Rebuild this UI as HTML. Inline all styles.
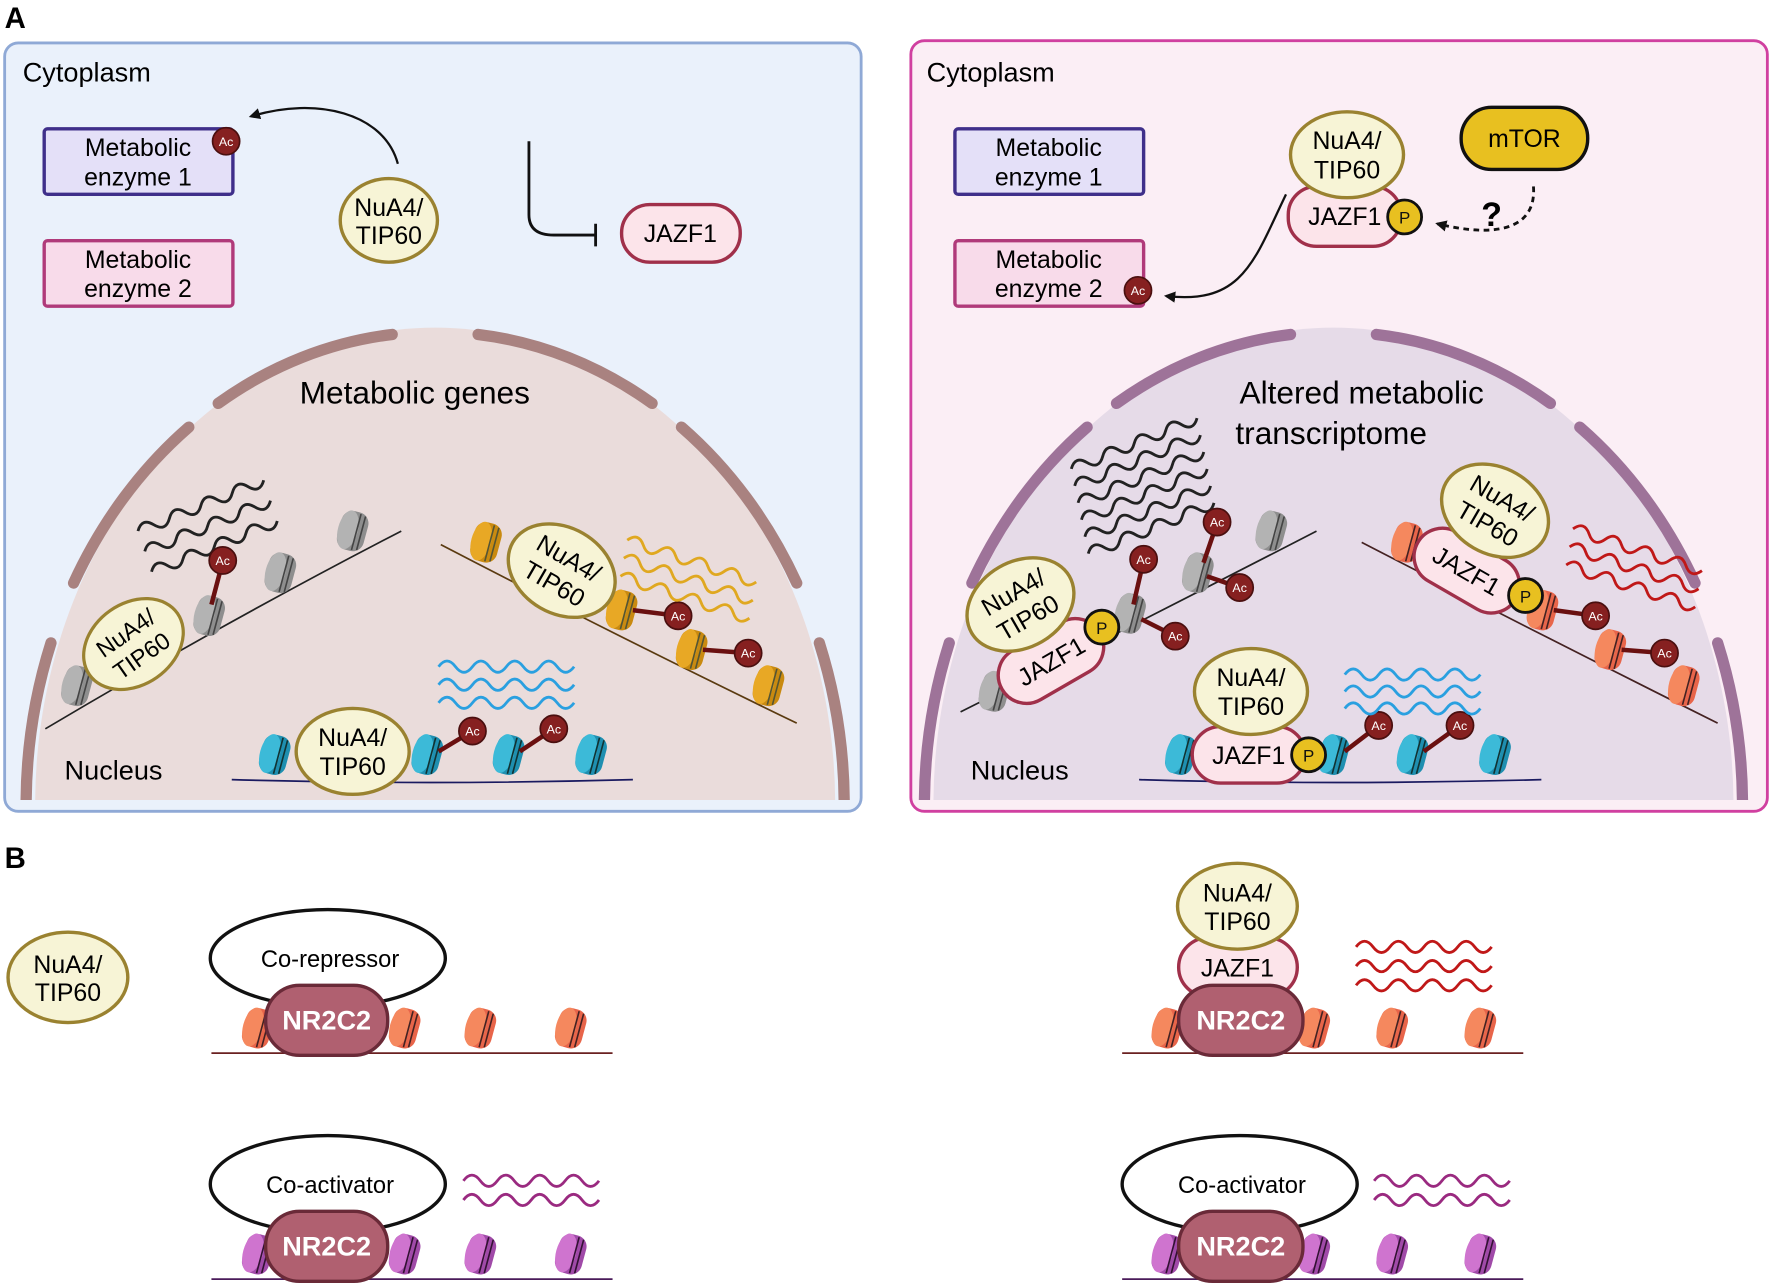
<!DOCTYPE html>
<html><head><meta charset="utf-8"><style>html,body{margin:0;padding:0;background:#fff}svg{display:block}text{font-family:"Liberation Sans",sans-serif}</style></head><body>
<svg width="1772" height="1287" viewBox="0 0 1568 1139" xmlns="http://www.w3.org/2000/svg">
<defs>
<clipPath id="cl"><rect x="5" y="39" width="756" height="669"/></clipPath>
<clipPath id="cr"><rect x="807" y="37" width="756" height="671"/></clipPath>
<g id="ngray"><g transform="rotate(15) scale(1.1)"><rect x="-11" y="-16" width="22" height="32" rx="9" fill="#8e8e8e"/><ellipse cx="-4" cy="0" rx="8" ry="16" fill="#b3b3b3"/><path d="M3 -15 V15 M7 -14 V14" stroke="#444" stroke-width="1.3"/></g></g>
<g id="nor"><g transform="rotate(15) scale(1.1)"><rect x="-11" y="-16" width="22" height="32" rx="9" fill="#c98a10"/><ellipse cx="-4" cy="0" rx="8" ry="16" fill="#e8a825"/><path d="M3 -15 V15 M7 -14 V14" stroke="#553" stroke-width="1.3"/></g></g>
<g id="nbl"><g transform="rotate(15) scale(1.1)"><rect x="-11" y="-16" width="22" height="32" rx="9" fill="#1f8fb0"/><ellipse cx="-4" cy="0" rx="8" ry="16" fill="#3cbad8"/><path d="M3 -15 V15 M7 -14 V14" stroke="#133" stroke-width="1.3"/></g></g>
<g id="nsa"><g transform="rotate(15) scale(1.1)"><rect x="-11" y="-16" width="22" height="32" rx="9" fill="#e8654a"/><ellipse cx="-4" cy="0" rx="8" ry="16" fill="#f5885e"/><path d="M3 -15 V15 M7 -14 V14" stroke="#422" stroke-width="1.3"/></g></g>
<g id="npu"><g transform="rotate(15) scale(1.1)"><rect x="-11" y="-16" width="22" height="32" rx="9" fill="#a04aa8"/><ellipse cx="-4" cy="0" rx="8" ry="16" fill="#cf74cf"/><path d="M3 -15 V15 M7 -14 V14" stroke="#313" stroke-width="1.3"/></g></g>
<g id="ac"><circle r="12" fill="#862020" stroke="#4a0f0f" stroke-width="1.5"/><text x="0" y="4" font-size="11" fill="#fff" text-anchor="middle">Ac</text></g>
<g id="pp"><circle r="15" fill="#e8c020" stroke="#111" stroke-width="2.5"/><text x="0" y="6" font-size="15" fill="#111" text-anchor="middle">P</text></g>
<g id="nua"><ellipse rx="50" ry="38" fill="#f7f4d6" stroke="#9a8230" stroke-width="3"/><text y="-5" font-size="22" text-anchor="middle">NuA4/</text><text y="21" font-size="22" text-anchor="middle">TIP60</text></g>
<path id="wv" d="M0 0 q7.5 -10 15 0 t15 0 t15 0 t15 0 t15 0 t15 0 t15 0 t15 0" fill="none" stroke-width="2.5"/>
<path id="mem" d="M362 0 A362 418 0 0 0 340 -143 M320 -196 A362 418 0 0 0 218 -334 M192 -355 A362 418 0 0 0 38 -416 M-38 -416 A362 418 0 0 0 -192 -355 M-218 -334 A362 418 0 0 0 -320 -196 M-340 -143 A362 418 0 0 0 -362 0" fill="none" stroke-width="10" stroke-linecap="round"/>
<marker id="ah" markerWidth="10" markerHeight="10" refX="8" refY="5" orient="auto" markerUnits="userSpaceOnUse" viewBox="0 0 10 10"><path d="M0 0 L10 5 L0 10 z" fill="#111"/></marker>
</defs>

<text x="4" y="25" font-size="26" font-weight="bold">A</text>
<text x="4" y="768" font-size="26" font-weight="bold">B</text>

<!-- LEFT PANEL -->
<rect x="4" y="38" width="758" height="680" rx="12" fill="#eaf1fb" stroke="#8fa9d6" stroke-width="2.5"/>
<g clip-path="url(#cl)">
<ellipse cx="385" cy="712" rx="354" ry="422" fill="#eadcdb"/>
<use href="#mem" x="385" y="712" stroke="#a98280"/>
</g>
<text x="20" y="72" font-size="24">Cytoplasm</text>
<rect x="39" y="114" width="167" height="58" rx="3" fill="#e4e0f8" stroke="#3f2f8a" stroke-width="3"/>
<text x="122" y="138" font-size="22" text-anchor="middle">Metabolic</text><text x="122" y="164" font-size="22" text-anchor="middle">enzyme 1</text>
<use href="#ac" x="200" y="125"/>
<path d="M352 145 C340 100 280 85 222 103" fill="none" stroke="#111" stroke-width="2" marker-end="url(#ah)"/>
<rect x="39" y="213" width="167" height="58" rx="3" fill="#f8dbea" stroke="#b03a7a" stroke-width="3"/>
<text x="122" y="237" font-size="22" text-anchor="middle">Metabolic</text><text x="122" y="263" font-size="22" text-anchor="middle">enzyme 2</text>
<g transform="translate(344,195)"><ellipse rx="43" ry="37" fill="#f7f4d6" stroke="#9a8230" stroke-width="3"/><text y="-4" font-size="22" text-anchor="middle">NuA4/</text><text y="21" font-size="22" text-anchor="middle">TIP60</text></g>
<path d="M468 125 V190 Q468 208 490 208 H527 M527 198 V218" fill="none" stroke="#111" stroke-width="2.5"/>
<rect x="550" y="181" width="105" height="51" rx="25" fill="#fce4ea" stroke="#a0304a" stroke-width="3"/>
<text x="602" y="214" font-size="22" text-anchor="middle">JAZF1</text>
<text x="367" y="357" font-size="28" text-anchor="middle">Metabolic genes</text>
<text x="57" y="690" font-size="24">Nucleus</text>
<g stroke="#222"><use href="#wv" transform="translate(122,470) rotate(-22)"/><use href="#wv" transform="translate(128,488) rotate(-22)"/><use href="#wv" transform="translate(134,506) rotate(-22)" /></g>
<path d="M40 645 Q200 550 355 470" fill="none" stroke="#222" stroke-width="1.5"/>
<use href="#ngray" x="68" y="607"/><use href="#ngray" x="185" y="545"/><use href="#ngray" x="248" y="507"/><use href="#ngray" x="312" y="470"/>
<line x1="187" y1="535" x2="197" y2="497" stroke="#6a1010" stroke-width="4"/><use href="#ac" x="197" y="496"/>
<use href="#nua" transform="translate(118,570) rotate(-35) scale(0.95)"/>
<path d="M390 482 Q540 560 705 640" fill="none" stroke="#5a3a10" stroke-width="1.5"/>
<use href="#nor" x="430" y="480"/><use href="#nor" x="550" y="540"/><use href="#nor" x="612" y="575"/><use href="#nor" x="680" y="607"/>
<line x1="560" y1="540" x2="600" y2="545" stroke="#6a1010" stroke-width="4"/><use href="#ac" x="600" y="545"/>
<line x1="622" y1="575" x2="662" y2="578" stroke="#6a1010" stroke-width="4"/><use href="#ac" x="662" y="578"/>
<use href="#nua" transform="translate(497,505) rotate(30)"/>
<g stroke="#e0a820"><use href="#wv" transform="translate(555,478) rotate(18)"/><use href="#wv" transform="translate(552,494) rotate(18)"/><use href="#wv" transform="translate(549,510) rotate(18)"/></g>
<path d="M205 690 Q380 695 560 690" fill="none" stroke="#1a1a60" stroke-width="1.5"/>
<use href="#nbl" x="243" y="668"/><use href="#nbl" x="378" y="668"/><use href="#nbl" x="450" y="668"/><use href="#nbl" x="523" y="668"/>
<line x1="388" y1="665" x2="418" y2="647" stroke="#6a1010" stroke-width="4"/><use href="#ac" x="418" y="647"/>
<line x1="460" y1="665" x2="490" y2="645" stroke="#6a1010" stroke-width="4"/><use href="#ac" x="490" y="645"/>
<use href="#nua" x="312" y="665"/>
<g stroke="#2aa0e0"><use href="#wv" x="388" y="590"/><use href="#wv" x="388" y="606"/><use href="#wv" x="388" y="622"/></g>

<!-- RIGHT PANEL -->
<rect x="806" y="36" width="758" height="682" rx="12" fill="#fbeef5" stroke="#d040a0" stroke-width="2.5"/>
<g clip-path="url(#cr)">
<ellipse cx="1180" cy="712" rx="354" ry="422" fill="#e6dbe8"/>
<use href="#mem" x="1180" y="712" stroke="#9e7399"/>
</g>
<text x="820" y="72" font-size="24">Cytoplasm</text>
<rect x="845" y="114" width="167" height="58" rx="3" fill="#e4e0f8" stroke="#3f2f8a" stroke-width="3"/>
<text x="928" y="138" font-size="22" text-anchor="middle">Metabolic</text><text x="928" y="164" font-size="22" text-anchor="middle">enzyme 1</text>
<rect x="845" y="213" width="167" height="58" rx="3" fill="#f8dbea" stroke="#b03a7a" stroke-width="3"/>
<text x="928" y="237" font-size="22" text-anchor="middle">Metabolic</text><text x="928" y="263" font-size="22" text-anchor="middle">enzyme 2</text>
<use href="#ac" x="1007" y="257"/>
<path d="M1138 172 C1110 230 1100 270 1032 262" fill="none" stroke="#111" stroke-width="2" marker-end="url(#ah)"/>
<rect x="1140" y="165" width="100" height="53" rx="25" fill="#fce4ea" stroke="#a0304a" stroke-width="3"/>
<text x="1190" y="199" font-size="22" text-anchor="middle">JAZF1</text>
<use href="#nua" x="1192" y="137"/>
<use href="#pp" x="1243" y="192"/>
<rect x="1293" y="95" width="112" height="55" rx="27" fill="#e8c020" stroke="#111" stroke-width="3"/>
<text x="1349" y="130" font-size="22" text-anchor="middle">mTOR</text>
<path d="M1357 165 C1360 205 1320 210 1272 198" fill="none" stroke="#111" stroke-width="2.5" stroke-dasharray="5 4" marker-end="url(#ah)"/>
<text x="1320" y="200" font-size="30" font-weight="bold" text-anchor="middle">?</text>
<text x="1205" y="357" font-size="28" text-anchor="middle">Altered metabolic</text>
<text x="1178" y="393" font-size="28" text-anchor="middle">transcriptome</text>
<text x="859" y="690" font-size="24">Nucleus</text>
<g stroke="#222"><use href="#wv" transform="translate(948,415) rotate(-22)"/><use href="#wv" transform="translate(951,430) rotate(-22)"/><use href="#wv" transform="translate(954,445) rotate(-22)"/><use href="#wv" transform="translate(957,460) rotate(-22)"/><use href="#wv" transform="translate(960,475) rotate(-22)"/><use href="#wv" transform="translate(963,490) rotate(-22)"/></g>
<path d="M850 630 Q1010 550 1165 470" fill="none" stroke="#222" stroke-width="1.5"/>
<use href="#ngray" x="880" y="612"/><use href="#ngray" x="1000" y="543"/><use href="#ngray" x="1060" y="507"/><use href="#ngray" x="1125" y="470"/>
<line x1="1003" y1="535" x2="1012" y2="496" stroke="#6a1010" stroke-width="4"/><use href="#ac" x="1012" y="495"/>
<line x1="1065" y1="498" x2="1077" y2="463" stroke="#6a1010" stroke-width="4"/><use href="#ac" x="1077" y="462"/>
<line x1="1068" y1="510" x2="1097" y2="520" stroke="#6a1010" stroke-width="4"/><use href="#ac" x="1097" y="520"/>
<line x1="1010" y1="548" x2="1040" y2="563" stroke="#6a1010" stroke-width="4"/><use href="#ac" x="1040" y="563"/>
<g transform="translate(930,585) rotate(-30)"><rect x="-50" y="-25" width="100" height="50" rx="25" fill="#fce4ea" stroke="#a0304a" stroke-width="3"/><text y="8" font-size="22" text-anchor="middle">JAZF1</text></g>
<use href="#nua" transform="translate(903,535) rotate(-30)"/>
<use href="#pp" x="975" y="555"/>
<path d="M1205 480 Q1360 560 1520 640" fill="none" stroke="#422" stroke-width="1.5"/>
<use href="#nsa" x="1245" y="480"/><use href="#nsa" x="1365" y="540"/><use href="#nsa" x="1425" y="575"/><use href="#nsa" x="1490" y="607"/>
<line x1="1375" y1="540" x2="1412" y2="545" stroke="#6a1010" stroke-width="4"/><use href="#ac" x="1412" y="545"/>
<line x1="1435" y1="575" x2="1473" y2="578" stroke="#6a1010" stroke-width="4"/><use href="#ac" x="1473" y="578"/>
<g transform="translate(1298,505) rotate(30)"><rect x="-50" y="-25" width="100" height="50" rx="25" fill="#fce4ea" stroke="#a0304a" stroke-width="3"/><text y="8" font-size="22" text-anchor="middle">JAZF1</text></g>
<use href="#nua" transform="translate(1323,452) rotate(30)"/>
<use href="#pp" x="1350" y="527"/>
<g stroke="#c01818"><use href="#wv" transform="translate(1392,468) rotate(18)"/><use href="#wv" transform="translate(1389,484) rotate(18)"/><use href="#wv" transform="translate(1386,500) rotate(18)"/></g>
<path d="M1008 690 Q1180 695 1364 690" fill="none" stroke="#1a1a60" stroke-width="1.5"/>
<use href="#nbl" x="1045" y="668"/><use href="#nbl" x="1180" y="668"/><use href="#nbl" x="1250" y="668"/><use href="#nbl" x="1323" y="668"/>
<line x1="1190" y1="665" x2="1220" y2="642" stroke="#6a1010" stroke-width="4"/><use href="#ac" x="1220" y="642"/>
<line x1="1260" y1="665" x2="1292" y2="642" stroke="#6a1010" stroke-width="4"/><use href="#ac" x="1292" y="642"/>
<rect x="1055" y="643" width="100" height="50" rx="25" fill="#fce4ea" stroke="#a0304a" stroke-width="3"/>
<text x="1105" y="676" font-size="22" text-anchor="middle">JAZF1</text>
<use href="#nua" x="1107" y="612"/>
<use href="#pp" x="1158" y="668"/>
<g stroke="#2aa0e0"><use href="#wv" x="1190" y="597"/><use href="#wv" x="1190" y="612"/><use href="#wv" x="1190" y="627"/></g>

<!-- PANEL B -->
<g transform="translate(60,865)"><ellipse rx="53" ry="40" fill="#f7f4d6" stroke="#9a8230" stroke-width="3"/><text y="-4" font-size="22" text-anchor="middle">NuA4/</text><text y="21" font-size="22" text-anchor="middle">TIP60</text></g>

<ellipse cx="290" cy="848" rx="104" ry="43" fill="#fff" stroke="#111" stroke-width="3"/>
<text x="292" y="856" font-size="21" text-anchor="middle">Co-repressor</text>
<path d="M187 932 H542" stroke="#6a2020" stroke-width="1.5"/>
<use href="#nsa" x="228" y="910"/><use href="#nsa" x="358" y="910"/><use href="#nsa" x="425" y="910"/><use href="#nsa" x="505" y="910"/>
<rect x="235" y="872" width="108" height="62" rx="30" fill="#b06070" stroke="#6a2a38" stroke-width="3"/>
<text x="289" y="911" font-size="24" font-weight="bold" fill="#fff" text-anchor="middle">NR2C2</text>

<ellipse cx="290" cy="1048" rx="104" ry="43" fill="#fff" stroke="#111" stroke-width="3"/>
<text x="292" y="1056" font-size="21" text-anchor="middle">Co-activator</text>
<path d="M187 1132 H542" stroke="#4a1a5a" stroke-width="1.5"/>
<use href="#npu" x="228" y="1110"/><use href="#npu" x="358" y="1110"/><use href="#npu" x="425" y="1110"/><use href="#npu" x="505" y="1110"/>
<rect x="235" y="1072" width="108" height="62" rx="30" fill="#b06070" stroke="#6a2a38" stroke-width="3"/>
<text x="289" y="1111" font-size="24" font-weight="bold" fill="#fff" text-anchor="middle">NR2C2</text>
<g stroke="#9a2a80"><use href="#wv" x="410" y="1045"/><use href="#wv" x="410" y="1062"/></g>

<path d="M993 932 H1348" stroke="#6a2020" stroke-width="1.5"/>
<use href="#nsa" x="1033" y="910"/><use href="#nsa" x="1163" y="910"/><use href="#nsa" x="1232" y="910"/><use href="#nsa" x="1310" y="910"/>
<rect x="1043" y="830" width="105" height="52" rx="26" fill="#fce4ea" stroke="#a0304a" stroke-width="3"/>
<text x="1095" y="864" font-size="22" text-anchor="middle">JAZF1</text>
<g transform="translate(1095,802)"><ellipse rx="53" ry="38" fill="#f7f4d6" stroke="#9a8230" stroke-width="3"/><text y="-4" font-size="22" text-anchor="middle">NuA4/</text><text y="21" font-size="22" text-anchor="middle">TIP60</text></g>
<rect x="1043" y="872" width="110" height="62" rx="30" fill="#b06070" stroke="#6a2a38" stroke-width="3"/>
<text x="1098" y="911" font-size="24" font-weight="bold" fill="#fff" text-anchor="middle">NR2C2</text>
<g stroke="#c01818"><use href="#wv" x="1200" y="838"/><use href="#wv" x="1200" y="855"/><use href="#wv" x="1200" y="872"/></g>

<ellipse cx="1097" cy="1048" rx="104" ry="43" fill="#fff" stroke="#111" stroke-width="3"/>
<text x="1099" y="1056" font-size="21" text-anchor="middle">Co-activator</text>
<path d="M993 1132 H1348" stroke="#4a1a5a" stroke-width="1.5"/>
<use href="#npu" x="1033" y="1110"/><use href="#npu" x="1163" y="1110"/><use href="#npu" x="1232" y="1110"/><use href="#npu" x="1310" y="1110"/>
<rect x="1043" y="1072" width="110" height="62" rx="30" fill="#b06070" stroke="#6a2a38" stroke-width="3"/>
<text x="1098" y="1111" font-size="24" font-weight="bold" fill="#fff" text-anchor="middle">NR2C2</text>
<g stroke="#9a2a80"><use href="#wv" x="1216" y="1045"/><use href="#wv" x="1216" y="1062"/></g>
</svg>
</body></html>
